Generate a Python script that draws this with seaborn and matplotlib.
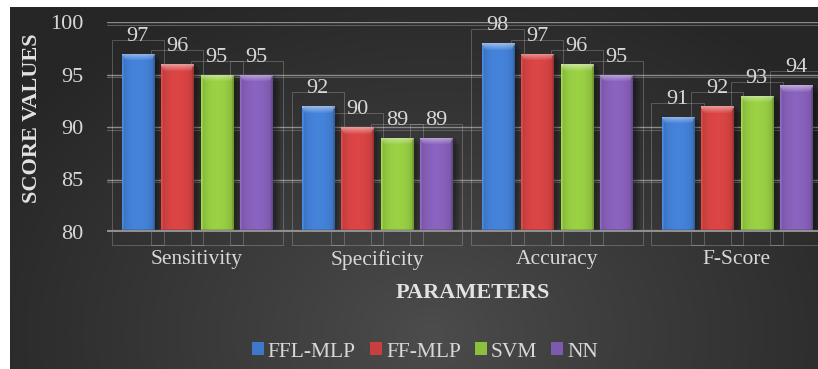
import numpy as np
import pandas as pd
import matplotlib
matplotlib.use("Agg")
import matplotlib.pyplot as plt
import seaborn as sns
from matplotlib.patches import Patch, Rectangle
from matplotlib.colors import to_rgb

# Scores per parameter for each classifier
categories = ["Sensitivity", "Specificity", "Accuracy", "F-Score"]
models = ["FFL-MLP", "FF-MLP", "SVM", "NN"]
ffl_mlp = [97, 92, 98, 91]
ff_mlp = [96, 90, 97, 92]
svm = [95, 89, 96, 93]
nn = [95, 89, 95, 94]
y_ticks = [80, 85, 90, 95, 100]

colors = ["#3f78c8", "#c93f3f", "#8dbf3e", "#7e5aae"]
text_color = "#d8d8d8"
serif = ["Liberation Serif", "DejaVu Serif"]

df = pd.DataFrame({
    "Parameter": categories * len(models),
    "Model": np.repeat(models, len(categories)),
    "Score": ffl_mlp + ff_mlp + svm + nn,
})

sns.set_theme(style="white")
plt.rcParams["font.family"] = serif

W, H = 818, 369
fig = plt.figure(figsize=(W / 100, H / 100), dpi=100, facecolor="white")

# dark radial background panel
bg = fig.add_axes([10 / W, 0, (W - 10) / W, (H - 7) / H])
bh, bw = 362, 808
yy, xx = np.mgrid[0:bh, 0:bw]
d = np.sqrt(((xx - 0.52 * bw) / (0.62 * bw)) ** 2 + ((yy - 0.9 * bh) / (1.05 * bh)) ** 2)
v = 0.30 - 0.15 * np.clip(d, 0, 1) ** 0.9
bg.imshow(np.dstack([v, v, v]), aspect="auto", interpolation="bilinear")
bg.set_axis_off()

ax = fig.add_axes([107 / W, 1 - 232 / H, (W - 107) / W, 210 / H])
ax.set_facecolor("none")

sns.barplot(data=df, x="Parameter", y="Score", hue="Model", palette=colors,
            saturation=1, width=0.88, gap=0.19, ax=ax, legend=False,
            edgecolor="none", zorder=3)


def bar_image(base, npx_h, npx_w=40):
    base = np.array(to_rgb(base))
    x = np.linspace(0, 1, npx_w)
    prof = 0.88 + 0.22 * np.sin(np.pi * x) ** 0.5
    prof[:2] = 1.15
    prof[-2:] = 0.8
    img = np.clip(base[None, None, :] * prof[None, :, None] * np.ones((npx_h, 1, 1)), 0, 1)
    cap = 7
    for r in range(min(cap, npx_h)):
        t = 0.45 * (1 - r / cap)
        lo = int(npx_w * 0.12 * r / cap)
        img[r, lo:npx_w - lo] = img[r, lo:npx_w - lo] * (1 - t) + t
    # darker foot
    img[-3:] *= 0.85
    return img


bars = [p for p in ax.patches if p.get_height() > 0]
for p in bars:
    x0, w = p.get_x(), p.get_width()
    h = p.get_height()
    # soft shadow to the right
    for k, a in enumerate([0.12, 0.12, 0.12]):
        ax.add_patch(Rectangle((x0 + w * (0.12 + 0.06 * k), 80), w, h - 80 - 0.3 * k,
                               facecolor="black", alpha=a, edgecolor="none", zorder=2))
    npx = max(int((h - 80) * 10.5), 8)
    im = ax.imshow(bar_image(p.get_facecolor(), npx), extent=(x0, x0 + w, 80, h),
                   aspect="auto", zorder=3.5, interpolation="bilinear")
    im.set_clip_path(p)
    cx = x0 + w / 2
    # faint outline frames around each bar
    ax.add_patch(Rectangle((cx - 0.145, 78.8), 0.29, h + 1.3 - 78.8, fill=False,
                           edgecolor=(1, 1, 1, 0.22), lw=0.7, clip_on=False, zorder=2.5))
    ax.text(cx, h + 0.75, f"{h:g}", ha="center", va="bottom", color=text_color,
            fontsize=16, family=serif, zorder=6, clip_on=False)

ax.set_aspect("auto")
ax.set_xlim(-0.5, -0.5 + (W - 107) / 180)
ax.set_ylim(80, 100)

# double grid lines
for t in y_ticks[1:]:
    ax.axhline(t, color="#8a8a8a", lw=1.0, zorder=1)
    ax.axhline(t - 0.27, color="#5e5e5e", lw=0.8, zorder=1)
ax.axhline(80, color="#8f8f8f", lw=3, zorder=4)

ax.set_yticks(y_ticks)
ax.set_yticklabels([str(t) for t in y_ticks], family=serif)
ax.set_xticks(range(len(categories)))
ax.set_xticklabels(categories, family=serif)
ax.tick_params(axis="y", length=0, pad=17, labelsize=16, labelcolor=text_color)
ax.tick_params(axis="x", length=0, pad=13, labelsize=15.5, labelcolor=text_color)
ax.set_xlabel("")
ax.set_ylabel("")
for s in ax.spines.values():
    s.set_visible(False)

fig.text(32 / W, 1 - 118 / H, "SCORE VALUES", rotation=90, ha="center", va="center",
         fontsize=16, fontweight="bold", color="#e2e2e2", family=serif)
fig.text(473 / W, 1 - 293 / H, "PARAMETERS", ha="center", va="center",
         fontsize=16, fontweight="bold", color="#e2e2e2", family=serif)

handles = [Patch(facecolor=c, edgecolor="none", label=m) for c, m in zip(colors, models)]
fig.legend(handles=handles, loc="center", bbox_to_anchor=(425 / W, 1 - 352 / H), ncol=4,
           frameon=False, prop={"family": serif, "size": 15.5}, labelcolor=text_color,
           handlelength=0.55, handleheight=0.55, handletextpad=0.2, columnspacing=0.65)

fig.savefig("out.png", dpi=100, facecolor="white")
